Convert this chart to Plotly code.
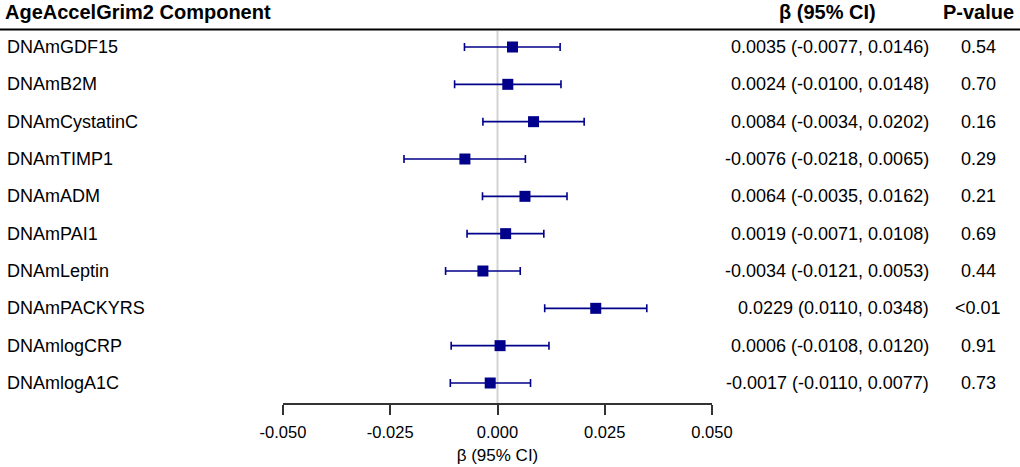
import plotly.graph_objects as go

# ---- data ----
components = ["DNAmGDF15", "DNAmB2M", "DNAmCystatinC", "DNAmTIMP1", "DNAmADM",
              "DNAmPAI1", "DNAmLeptin", "DNAmPACKYRS", "DNAmlogCRP", "DNAmlogA1C"]
beta = [0.0035, 0.0024, 0.0084, -0.0076, 0.0064, 0.0019, -0.0034, 0.0229, 0.0006, -0.0017]
ci_low = [-0.0077, -0.0100, -0.0034, -0.0218, -0.0035, -0.0071, -0.0121, 0.0110, -0.0108, -0.0110]
ci_high = [0.0146, 0.0148, 0.0202, 0.0065, 0.0162, 0.0108, 0.0053, 0.0348, 0.0120, 0.0077]
p_values = ["0.54", "0.70", "0.16", "0.29", "0.21", "0.69", "0.44", "<0.01", "0.91", "0.73"]
x_ticks = [-0.050, -0.025, 0.000, 0.025, 0.050]
x_tick_labels = ["-0.050", "-0.025", "0.000", "0.025", "0.050"]

W, H = 1020, 467
FONT = "Liberation Sans, Arial, sans-serif"
NAVY = "#00008B"

rows = list(range(len(components)))
err_plus = [h - b for h, b in zip(ci_high, beta)]
err_minus = [b - l for b, l in zip(beta, ci_low)]

# pixel layout helpers
row0_px, row_step = 47.0, 37.333
axis_px = 403.0


def px_to_row(p):
    return (p - row0_px) / row_step


fig = go.Figure()

fig.add_trace(go.Scatter(
    x=beta, y=rows, mode="markers",
    marker=dict(symbol="square", size=11, color=NAVY, line=dict(width=0)),
    error_x=dict(type="data", symmetric=False, array=err_plus, arrayminus=err_minus,
                 color=NAVY, thickness=1.6, width=4),
    showlegend=False, hoverinfo="skip",
))

annotations = []
for i, (name, b, l, h, p) in enumerate(zip(components, beta, ci_low, ci_high, p_values)):
    annotations.append(dict(x=5 / W, y=i, xref="paper", yref="y", text=name,
                            xanchor="left", yanchor="middle", showarrow=False,
                            font=dict(family=FONT, size=18, color="black")))
    annotations.append(dict(x=931 / W, y=i, xref="paper", yref="y",
                            text=f"{b:.4f} ({l:.4f}, {h:.4f})",
                            xanchor="right", yanchor="middle", showarrow=False,
                            font=dict(family=FONT, size=18, color="black")))
    annotations.append(dict(x=978 / W, y=i, xref="paper", yref="y", text=p,
                            xanchor="center", yanchor="middle", showarrow=False,
                            font=dict(family=FONT, size=18, color="black")))

# headers
hdr_y = px_to_row(12)
annotations += [
    dict(x=3 / W, y=hdr_y, xref="paper", yref="y", text="<b>AgeAccelGrim2 Component</b>",
         xanchor="left", yanchor="middle", showarrow=False,
         font=dict(family=FONT, size=20, color="black")),
    dict(x=827 / W, y=hdr_y, xref="paper", yref="y", text="<b>β (95% CI)</b>",
         xanchor="center", yanchor="middle", showarrow=False,
         font=dict(family=FONT, size=20, color="black")),
    dict(x=978 / W, y=hdr_y, xref="paper", yref="y", text="<b>P-value</b>",
         xanchor="center", yanchor="middle", showarrow=False,
         font=dict(family=FONT, size=20, color="black")),
]

shapes = [
    # header rule
    dict(type="line", xref="paper", yref="y", x0=0, x1=1,
         y0=px_to_row(29.5), y1=px_to_row(29.5), line=dict(color="black", width=2)),
    # reference line at zero
    dict(type="line", xref="x", yref="y", x0=0, x1=0,
         y0=px_to_row(31), y1=px_to_row(axis_px), line=dict(color="#d3d3d3", width=2),
         layer="below"),
]

fig.update_layout(
    width=W, height=H, autosize=False,
    margin=dict(l=0, r=0, t=0, b=0, pad=0),
    paper_bgcolor="white", plot_bgcolor="white",
    annotations=annotations, shapes=shapes,
    xaxis=dict(domain=[283 / W, 712 / W], range=[-0.05, 0.05],
               tickvals=x_ticks, ticktext=x_tick_labels,
               ticks="outside", ticklen=10, tickwidth=2, tickcolor="#333333",
               ticklabelstandoff=3,
               showline=True, linecolor="#333333", linewidth=2,
               showgrid=False, zeroline=False, automargin=False,
               tickfont=dict(family=FONT, size=16.5, color="black"),
               title=dict(text="β (95% CI)", standoff=9,
                          font=dict(family=FONT, size=17, color="black")),
               anchor="y", fixedrange=True),
    yaxis=dict(domain=[1 - axis_px / H, 1],
               range=[px_to_row(axis_px), px_to_row(0)],
               visible=False, showgrid=False, zeroline=False, fixedrange=True,
               automargin=False),
)

fig.write_html(
    "out.html",
    config={"responsive": False, "displayModeBar": False},
    post_script="document.body.style.margin='0';document.body.style.padding='0';"
                "document.body.style.overflow='hidden';",
)
